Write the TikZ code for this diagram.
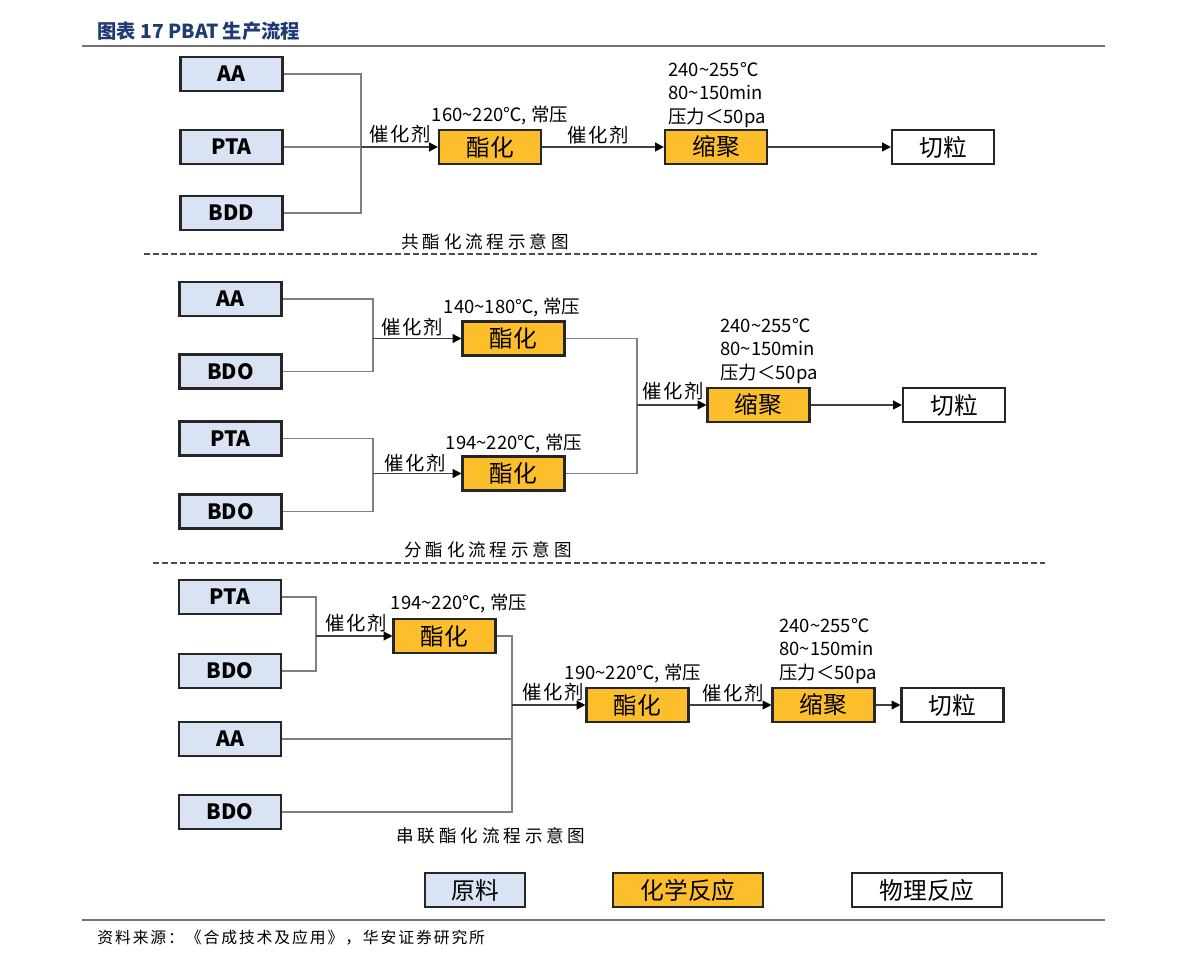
\documentclass[tikz,border=0pt]{standalone}
\usepackage{fontspec}
\setmainfont{Noto Sans CJK SC}
\newfontfamily\capfont{Noto Sans CJK SC}[LetterSpace=22]
\newfontfamily\srcfont{Noto Sans CJK SC}[LetterSpace=12]
\newfontfamily\catfont{Noto Sans CJK SC}[LetterSpace=10]
\usepackage{xcolor}
\usetikzlibrary{arrows.meta, positioning}
\definecolor{rawblue}{HTML}{DAE3F3}
\definecolor{chemgold}{HTML}{FDBE2C}
\definecolor{titleblue}{HTML}{1F3B73}
\definecolor{linegray}{HTML}{808080}
\tikzstyle{raw} = [rectangle, draw=black!85, line width=1.2pt,
  minimum width=2.04cm, minimum height=0.68cm, inner sep=0pt,
  fill=rawblue, font=\fontsize{12}{14}\selectfont\bfseries]
\tikzstyle{chem} = [rectangle, draw=black!85, line width=1.2pt,
  minimum width=2.04cm, minimum height=0.68cm, inner sep=0pt,
  fill=chemgold, font=\fontsize{13.5}{15}\selectfont]
\tikzstyle{phys} = [rectangle, draw=black!85, line width=1.2pt,
  minimum width=2.04cm, minimum height=0.68cm, inner sep=0pt,
  fill=white, font=\fontsize{13.5}{15}\selectfont]
\tikzstyle{link} = [linegray, line width=0.8pt]
\tikzstyle{arrow} = [black!75, line width=0.8pt,
  -{Triangle[length=5pt,width=5pt,color=black]}]
\begin{document}
\begin{tikzpicture}[x=0.02cm, y=-0.02cm,
  cat/.style={inner sep=0pt, font=\fontsize{11}{13}\catfont},
  temp/.style={inner sep=0pt, font=\fontsize{10.5}{13}\selectfont},
  cond/.style={inner sep=0pt, anchor=west, align=left,
    font=\fontsize{10.5}{13.4}\selectfont},
  caption/.style={inner sep=0pt, font=\fontsize{10}{12}\capfont},
  sep/.style={black!70, line width=0.6pt, dash pattern=on 3.4pt off 1.7pt},
  rule/.style={black!55, line width=0.9pt}]
\useasboundingbox (0,0) rectangle (1191,966);

% heading
\node (title) [anchor=west, inner sep=0pt, text=titleblue,
  font=\fontsize{11}{13}\selectfont\bfseries] at (97,31)
  {图表 17 PBAT 生产流程};
\coordinate (ruleL) at (82,46);
\coordinate (ruleR) at (1105,46);
\draw [rule] (ruleL) -- (ruleR);

% --- co-esterification ---
\node (aa1) [raw] at (231.5,74) {AA};
\node (pta1) [raw] at (231.5,147) {PTA};
\node (bdd1) [raw] at (231.5,213) {BDD};
\coordinate (j1) at (361,147);
\node (ester1) [chem] at (490,147) {酯化};
\node (poly1) [chem] at (716,147) {缩聚};
\node (cut1) [phys] at (943,147) {切粒};

\node (cat1a) [cat] at (400,134) {催化剂};
\node (cat1b) [cat] at (598,135) {催化剂};
\node (temp1) [temp] at (500,115) {160\textasciitilde220℃, 常压};
\node (cond1) [cond] at (668,95)
  {240\textasciitilde255℃\\80\textasciitilde150min\\压力＜50pa};

\draw [link] (aa1.east) -| (j1);
\draw [link] (bdd1.east) -| (j1);
\draw [link] (pta1.east) -- (j1);
\draw [arrow] (j1) -- (ester1.west);
\draw [arrow] (ester1) -- (poly1);
\draw [arrow] (poly1) -- (cut1);

\node (cap1) [caption] at (485,242) {共酯化流程示意图};
\draw [sep] (144,254) -- (1037,254);

% --- separate esterification ---
\node (aa2) [raw] at (230.5,299) {AA};
\node (bdo2a) [raw] at (230.5,371.5) {BDO};
\node (pta2) [raw] at (230.5,438.5) {PTA};
\node (bdo2b) [raw] at (230.5,511.5) {BDO};
\coordinate (j2a) at (373,338.5);
\coordinate (j2b) at (373,473.5);
\node (ester2a) [chem] at (513.5,338.5) {酯化};
\node (ester2b) [chem] at (513.5,473.5) {酯化};
\coordinate (j2c) at (637,405);
\node (poly2) [chem] at (758.5,405) {缩聚};
\node (cut2) [phys] at (954,405) {切粒};

\node (cat2a) [cat] at (412,327) {催化剂};
\node (cat2b) [cat] at (415,463) {催化剂};
\node (cat2c) [cat] at (673,391) {催化剂};
\node (temp2a) [temp] at (512,307) {140\textasciitilde180℃, 常压};
\node (temp2b) [temp] at (514,443) {194\textasciitilde220℃, 常压};
\node (cond2) [cond] at (720,351)
  {240\textasciitilde255℃\\80\textasciitilde150min\\压力＜50pa};

\draw [link] (aa2.east) -| (j2a);
\draw [link] (bdo2a.east) -| (j2a);
\draw [arrow] (j2a) -- (ester2a.west);
\draw [link] (pta2.east) -| (j2b);
\draw [link] (bdo2b.east) -| (j2b);
\draw [arrow] (j2b) -- (ester2b.west);
\draw [link] (ester2a.east) -| (j2c);
\draw [link] (ester2b.east) -| (j2c);
\draw [arrow] (j2c) -- (poly2.west);
\draw [arrow] (poly2) -- (cut2);

\node (cap2) [caption] at (488,550) {分酯化流程示意图};
\draw [sep] (153,563) -- (1045,563);

% --- serial esterification ---
\node (pta3) [raw] at (230,597) {PTA};
\node (bdo3a) [raw] at (230,671) {BDO};
\node (aa3) [raw] at (230,739) {AA};
\node (bdo3b) [raw] at (230,812) {BDO};
\coordinate (j3a) at (316,636);
\node (ester3a) [chem] at (444.5,636) {酯化};
\coordinate (j3b) at (512,705);
\node (ester3b) [chem] at (637.5,705) {酯化};
\node (poly3) [chem] at (823.5,705) {缩聚};
\node (cut3) [phys] at (952.5,705) {切粒};

\node (cat3a) [cat] at (356,623) {催化剂};
\node (cat3b) [cat] at (553,692) {催化剂};
\node (cat3c) [cat] at (733,693) {催化剂};
\node (temp3a) [temp] at (459,603) {194\textasciitilde220℃, 常压};
\node (temp3b) [temp] at (633,673) {190\textasciitilde220℃, 常压};
\node (cond3) [cond] at (779,651)
  {240\textasciitilde255℃\\80\textasciitilde150min\\压力＜50pa};

\draw [link] (pta3.east) -| (j3a);
\draw [link] (bdo3a.east) -| (j3a);
\draw [arrow] (j3a) -- (ester3a.west);
\draw [link] (ester3a.east) -| (j3b);
\draw [link] (aa3.east) -| (j3b);
\draw [link] (bdo3b.east) -| (j3b);
\draw [arrow] (j3b) -- (ester3b.west);
\draw [arrow] (ester3b) -- (poly3);
\draw [arrow] (poly3) -- (cut3);

\node (cap3) [caption] at (491,836) {串联酯化流程示意图};

% legend
\node (legraw) [raw, minimum width=2cm, font=\fontsize{13.5}{15}\selectfont]
  at (475,890) {原料};
\node (legchem) [chem, minimum width=3cm] at (688,890) {化学反应};
\node (legphys) [phys, minimum width=3cm] at (927,890) {物理反应};

% source
\coordinate (footL) at (82,920);
\coordinate (footR) at (1105,920);
\draw [rule] (footL) -- (footR);
\node (source) [anchor=west, inner sep=0pt,
  font=\fontsize{9}{11}\srcfont] at (97,938)
  {资料来源：《合成技术及应用》，华安证券研究所};

\end{tikzpicture}
\end{document}
